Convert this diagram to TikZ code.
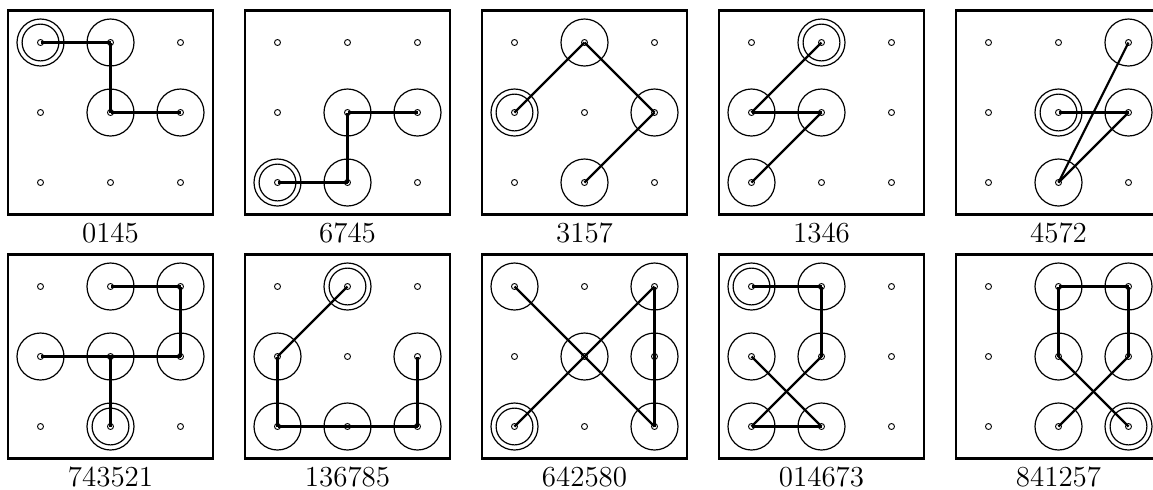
\documentclass[tikz,border=0pt]{standalone}
\usetikzlibrary{calc}
\tikzset{
  panelbox/.style={draw, line width=1.1pt, minimum width=102.5pt, minimum height=102pt, inner sep=0pt},
  gdot/.style={circle, draw, line width=0.45pt, minimum size=3pt, inner sep=0pt},
  visited/.style={circle, draw, line width=0.6pt, minimum size=23.5pt, inner sep=0pt},
  startring/.style={circle, draw, line width=0.6pt, minimum size=18.4pt, inner sep=0pt},
  patline/.style={line width=1.1pt},
  digitlabel/.style={anchor=base, inner sep=0pt, font=\fontsize{14.5}{17}\selectfont}
}
\newcommand\lockpanel[5]{%
  \node[panelbox] (#1-box) at (#2,#3) {};
  \node[digitlabel] (#1-lab) at (#2,#3+129.5) {#4};
  \foreach \k in {0,...,8}{%
    \pgfmathtruncatemacro\cc{mod(\k,3)}%
    \pgfmathtruncatemacro\rr{(\k-\cc)/3}%
    \node[gdot] (#1-\k) at ({#2+70*(\cc-1)},{#3+70*(\rr-1)}) {};
  }
  \foreach \d [count=\i] in {#5}{%
    \node[visited] (#1-v\d) at (#1-\d.center) {};
    \ifnum\i=1 \node[startring] (#1-s) at (#1-\d.center) {};\fi
  }
  \foreach \d [count=\i, remember=\d as \prev (initially 0)] in {#5}{%
    \ifnum\i>1 \draw[patline] (#1-\prev.center) -- (#1-\d.center);\fi
  }
}
\begin{document}
\begin{tikzpicture}[x=0.5pt,y=-0.5pt]
\useasboundingbox (0,0) rectangle (1153,489);
\clip (0,0) rectangle (1153,489);
\lockpanel{a}{110.5}{112.5}{0145}{0,1,4,5}
\lockpanel{b}{347.5}{112.5}{6745}{6,7,4,5}
\lockpanel{c}{584.5}{112.5}{3157}{3,1,5,7}
\lockpanel{d}{821.5}{112.5}{1346}{1,3,4,6}
\lockpanel{e}{1058.5}{112.5}{4572}{4,5,7,2}
\lockpanel{f}{110.5}{356.5}{743521}{7,4,3,5,2,1}
\lockpanel{g}{347.5}{356.5}{136785}{1,3,6,7,8,5}
\lockpanel{h}{584.5}{356.5}{642580}{6,4,2,5,8,0}
\lockpanel{i}{821.5}{356.5}{014673}{0,1,4,6,7,3}
\lockpanel{j}{1058.5}{356.5}{841257}{8,4,1,2,5,7}
\end{tikzpicture}
\end{document}
